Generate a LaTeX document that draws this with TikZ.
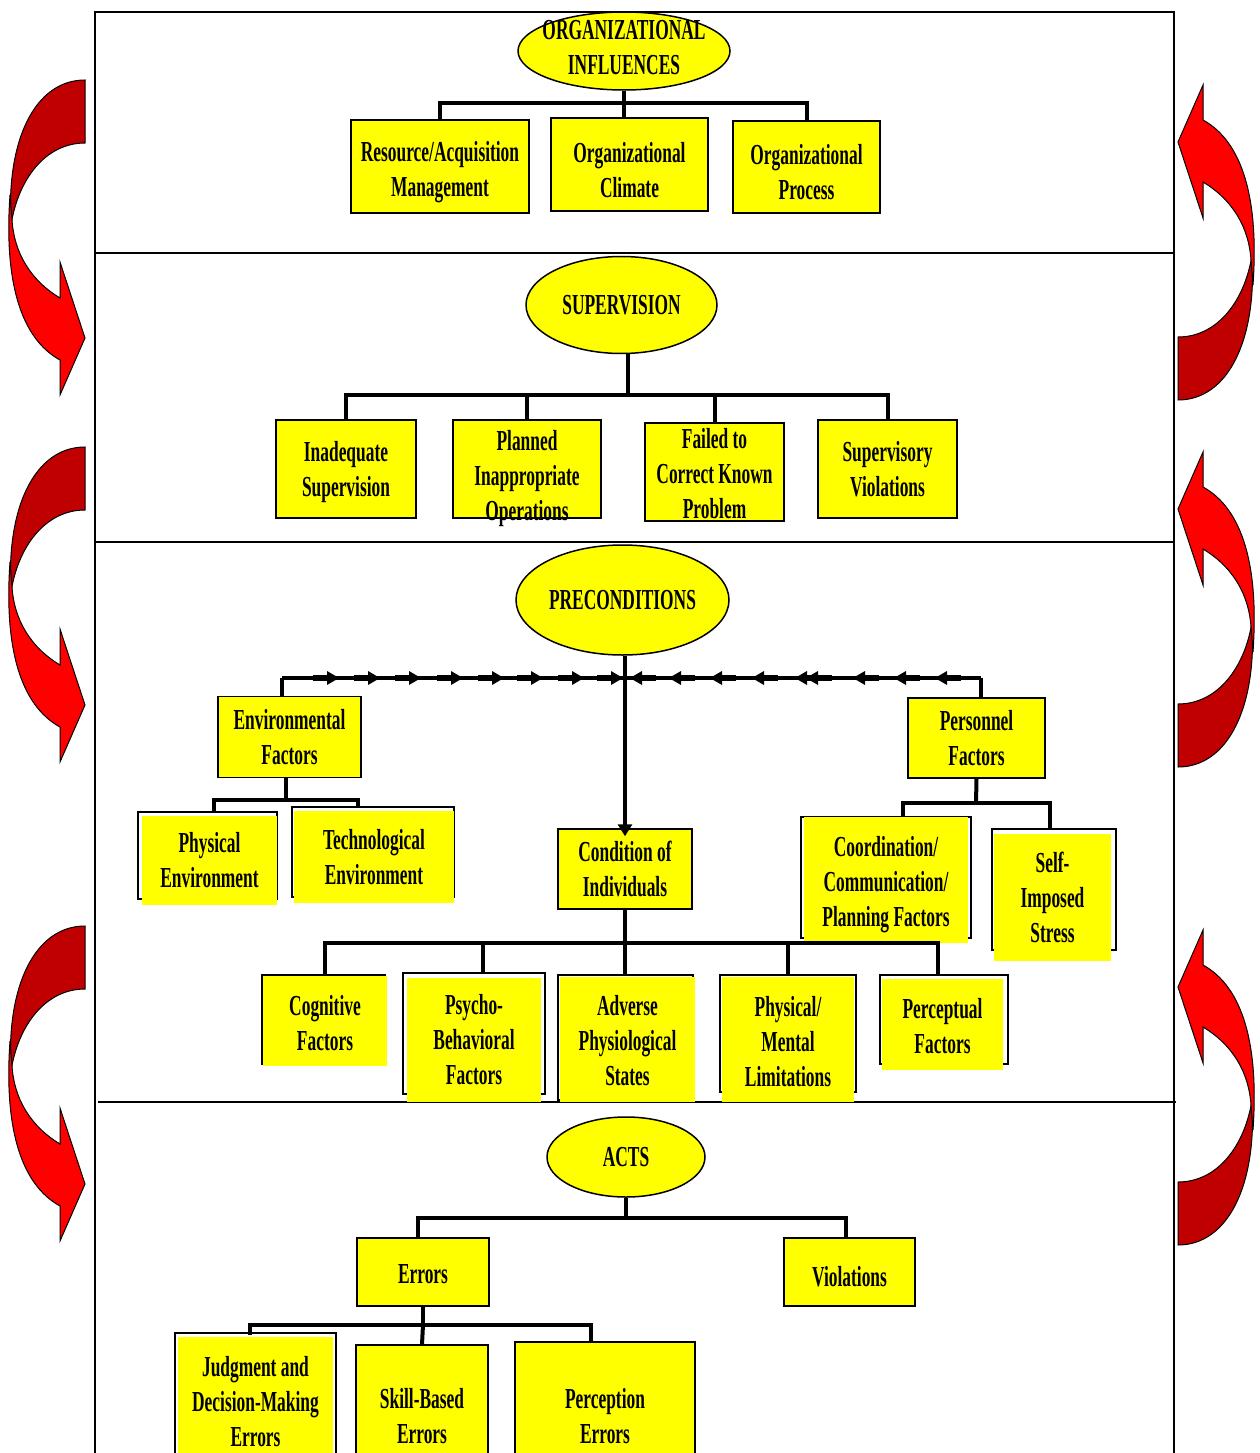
\documentclass[tikz,border=0pt]{standalone}
\usepackage{fontspec}
\setmainfont{Liberation Serif}[FakeStretch=0.6]
\usetikzlibrary{shapes.geometric,arrows.meta}
\definecolor{boxyellow}{RGB}{255,255,0}
\definecolor{darkred}{RGB}{192,0,0}
\definecolor{brightred}{RGB}{255,0,0}
\tikzset{
  txt/.style={font=\fontsize{29}{35}\selectfont\bfseries, align=center, inner sep=0pt},
  box/.style={txt, rectangle, draw=black, line width=1.5pt, fill=boxyellow},
  fbox/.style={txt, rectangle, fill=boxyellow},
  outl/.style={draw=black, line width=1.5pt},
  ell/.style={txt, ellipse, draw=black, line width=1.5pt, fill=boxyellow, inner sep=0pt},
  conn/.style={line width=4pt, line join=miter},
  frame/.style={line width=2pt},
  redturn/.pic={
    \filldraw[fill=darkred, draw=black, line width=1pt]
      (85,0) .. controls (35,0) and (6,60) .. (11,145)
      .. controls (18,100) and (45,63) .. (85,63) -- cycle;
    \filldraw[fill=brightred, draw=black, line width=1pt]
      (10,115) .. controls (4,200) and (20,258) .. (60,280)
      -- (60,315) -- (85,258) -- (60,182) -- (60,218)
      .. controls (30,200) and (14,172) .. (12,140) -- cycle;
  }
}
\begin{document}
\begin{tikzpicture}[x=1pt,y=-1pt]
\useasboundingbox (0,0) rectangle (1259,1453);
\clip (0,0) rectangle (1259,1453);
\fill[white] (0,0) rectangle (1259,1453);

% frame
\draw[frame] (95,12) rectangle (1174,1470);
\draw[frame] (95,253) -- (1174,253);
\draw[frame] (95,542) -- (1174,542);
\draw[frame] (98,1102) -- (1176,1102);

% side arrows
\pic at (0,80) {redturn};
\pic at (0,447) {redturn};
\pic at (0,926) {redturn};
\pic[rotate=180] at (1263,400) {redturn};
\pic[rotate=180] at (1263,767) {redturn};
\pic[rotate=180] at (1263,1245) {redturn};

% ---------- Organizational influences
\node[ell, minimum width=212, minimum height=78] (eorg) at (624,51) {};
\node[txt] at ([yshift=3pt]eorg.center) {ORGANIZATIONAL\\INFLUENCES};
\node[box, minimum width=178, minimum height=93] (ores) at (440,166.5) {};
\node[txt] at ([yshift=-6pt]ores.center) {Resource/Acquisition\\Management};
\node[box, minimum width=157, minimum height=93] (oclim) at (629.5,164.5) {};
\node[txt] at ([yshift=-6pt]oclim.center) {Organizational\\Climate};
\node[box, minimum width=147, minimum height=92] (oproc) at (806.5,167) {};
\node[txt] at ([yshift=-5pt]oproc.center) {Organizational\\Process};
\coordinate (b1) at (624,103);
\draw[conn] (eorg.south) -- (b1);
\draw[conn] (ores.north) |- (b1) -| (oproc.north);
\draw[conn] (b1) -- (b1 |- oclim.north);

% ---------- Supervision
\node[ell, minimum width=191, minimum height=97] (esup) at (621.5,305) {SUPERVISION};
\node[box, minimum width=140, minimum height=98] (sinad) at (346,469) {};
\node[txt] at ([yshift=-3pt]sinad.center) {Inadequate\\Supervision};
\node[box, minimum width=148, minimum height=98] (splan) at (527,469) {};
\node[txt] at ([yshift=-10pt]splan.center) {Planned\\Inappropriate\\Operations};
\node[box, minimum width=139, minimum height=98] (sfail) at (714.5,472) {};
\node[txt] at ([yshift=-2pt]sfail.center) {Failed to\\Correct Known\\Problem};
\node[box, minimum width=139, minimum height=98] (sviol) at (887.5,469) {Supervisory\\Violations};
\coordinate (b2) at (628,395);
\draw[conn] (b2 |- esup.south) -- (b2);
\draw[conn] (sinad.north) |- (b2) -| (sviol.north);
\draw[conn] (splan.north) -- (splan.north |- b2);
\draw[conn] (sfail.north) -- (sfail.north |- b2);

% ---------- Preconditions
\node[ell, minimum width=213, minimum height=110] (epre) at (622.5,600) {PRECONDITIONS};
\node[box, minimum width=143, minimum height=81] (penv) at (289.5,737) {Environmental\\Factors};
\node[box, minimum width=137, minimum height=80] (ppers) at (976.5,738) {Personnel\\Factors};
\node[box, minimum width=134, minimum height=80] (pcond) at (625,869) {Condition of\\Individuals};

\draw[outl] (138,812) rectangle (277,899);
\node[fbox, minimum width=135, minimum height=89] (pphys) at (209.5,860) {Physical\\Environment};
\draw[outl] (292,807) rectangle (454,897);
\node[fbox, minimum width=160, minimum height=92] (ptech) at (374,857) {Technological\\Environment};
\draw[outl] (801,817) rectangle (971,938);
\node[fbox, minimum width=164, minimum height=126] (pcoord) at (886,880) {};
\node[txt] at ([yshift=-5pt]pcoord.center) {Coordination/\\Communication/\\Planning Factors};
\draw[outl] (992,829) rectangle (1116,950);
\node[fbox, minimum width=117, minimum height=127] (pself) at (1052.5,897.5) {Self-\\Imposed\\Stress};

\draw[outl] (262,975) rectangle (385,1064);
\node[fbox, minimum width=124, minimum height=90] (pcog) at (325,1021) {};
\node[txt] at ([yshift=-2pt]pcog.center) {Cognitive\\Factors};
\draw[outl] (403,973) rectangle (545,1094);
\node[fbox, minimum width=134, minimum height=124] (ppsy) at (474,1040) {Psycho-\\Behavioral\\Factors};
\draw[outl] (558,975) rectangle (693,1100);
\node[fbox, minimum width=135, minimum height=125] (padv) at (627.5,1039.5) {};
\node[txt] at ([yshift=-1pt]padv.center) {Adverse\\Physiological\\States};
\draw[outl] (720,975) rectangle (856,1092);
\node[fbox, minimum width=132, minimum height=125] (pment) at (788,1039.5) {};
\node[txt] at ([yshift=-2pt]pment.center) {Physical/\\Mental\\Limitations};
\draw[outl] (880,975) rectangle (1008,1064);
\node[fbox, minimum width=121, minimum height=91] (pperc) at (942.5,1024.5) {};
\node[txt] at ([yshift=-2pt]pperc.center) {Perceptual\\Factors};

% precondition connectors
\coordinate (b3) at (626,678);
\draw[conn] (282,678) -- (981,678);
\draw[conn] (penv.north -| 282,0) -- (282,678);
\draw[conn] (ppers.north -| 981,0) -- (981,678);
\draw[conn, -{Triangle[length=12pt,width=14pt]}] (pcond.north |- epre.south) -- ([yshift=-8pt]pcond.north);
\foreach \t in {339,380,421,463,504,543,584,623} {
  \fill (\t,678) -- (\t-12,671) -- (\t-12,685) -- cycle;
  \fill (\t-26,675) rectangle (\t-11,681);
}
\foreach \t in {630,669,710,752,795,806,853,894,935} {
  \fill (\t,678) -- (\t+12,671) -- (\t+12,685) -- cycle;
  \fill (\t+11,675) rectangle (\t+26,681);
}
% environmental
\coordinate (b4) at (286,800);
\draw[conn] (b4 |- penv.south) -- (b4);
\draw[conn] (214,812) |- (b4) -| (358,807);
% personnel
\coordinate (b5) at (976,803);
\draw[conn] (ppers.south) -- (b5);
\draw[conn] (903,817) |- (b5) -| (1050,829);
% condition
\coordinate (b6) at (625,943);
\draw[conn] (pcond.south) -- (b6);
\draw[conn] (325,975) |- (b6) -| (938,975);
\draw[conn] (483,943) -- (483,973);
\draw[conn] (b6) -- (625,975);
\draw[conn] (788,943) -- (788,975);

% ---------- Acts
\node[ell, minimum width=158, minimum height=80] (eacts) at (626,1157) {ACTS};
\node[box, minimum width=132, minimum height=68] (aerr) at (423,1272) {};
\node[txt] at ([yshift=-2pt]aerr.center) {Errors};
\node[box, minimum width=131, minimum height=68] (aviol) at (849.5,1272) {};
\node[txt] at ([yshift=-5pt]aviol.center) {Violations};
\draw[outl] (175,1333) rectangle (336,1480);
\node[fbox, minimum width=155, minimum height=130] (ajudg) at (255.5,1402) {Judgment and\\Decision-Making\\Errors};
\node[box, minimum width=132, minimum height=142] (askill) at (422,1416) {Skill-Based\\Errors};
\node[box, minimum width=180, minimum height=148] (aperc) at (605,1416) {Perception\\Errors};
\coordinate (b7) at (626,1218);
\draw[conn] (eacts.south) -- (b7);
\draw[conn] (418,1238) |- (b7) -| (846,1238);
\coordinate (b8) at (423,1325);
\draw[conn] (aerr.south) -- (b8);
\draw[conn] (250,1335) |- (b8) -| (591,1342);
\draw[conn] (b8) -- (askill.north);
\end{tikzpicture}
\end{document}
